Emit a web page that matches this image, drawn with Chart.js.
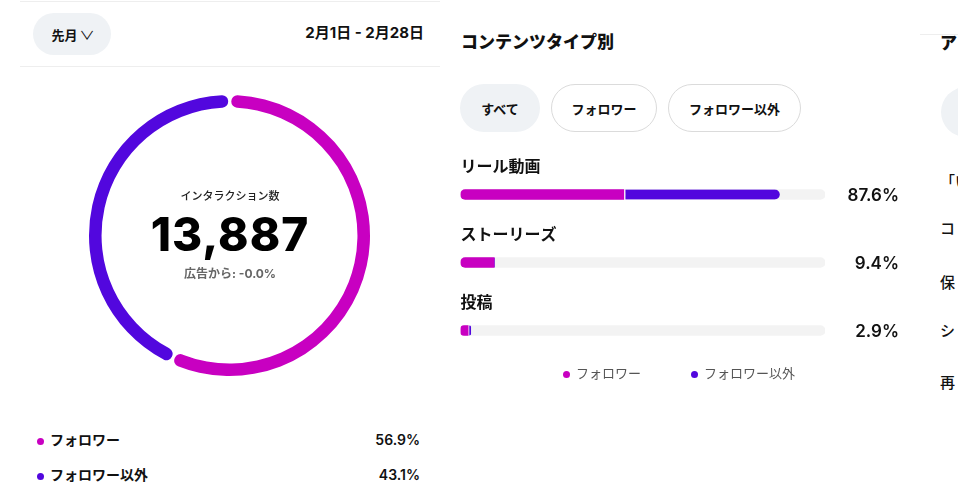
<!DOCTYPE html>
<html lang="ja">
<head>
<meta charset="utf-8">
<script src="https://cdn.jsdelivr.net/npm/chart.js@4.4.1/dist/chart.umd.min.js"></script>
<style>
  html, body { margin: 0; padding: 0; background: #fff; }
  body { width: 958px; height: 501px; position: relative; overflow: hidden;
         font-family: "Inter", "Noto Sans CJK JP", sans-serif; color: #111; }
  .abs { position: absolute; }
  .hline { position: absolute; height: 1px; background: #EEEEEE; }
  .pill { position: absolute; box-sizing: border-box; border-radius: 24px;
          display: flex; align-items: center; justify-content: center;
          font-weight: 700; font-size: 13px; color: #111; }
  .txt { position: absolute; white-space: nowrap; line-height: 1; }
</style>
</head>
<body>
<!-- left panel header -->
<div class="hline" style="left:20px; top:1px; width:420px;"></div>
<div class="pill" style="left:33px; top:13px; width:78px; height:42px; background:#EFF2F5;">先月&nbsp;<span style="font-weight:400; font-size:12px; transform:scaleX(1.3); display:inline-block;">∨</span></div>
<div class="txt" id="dateRange" style="right:534px; top:25px; font-size:15px; font-weight:700;"></div>
<div class="hline" style="left:20px; top:66px; width:420px;"></div>

<!-- doughnut -->
<canvas id="donut" class="abs" style="left:79px; top:85px;" width="301" height="301"></canvas>
<div class="txt" id="centerTitle" style="left:130px; width:200px; text-align:center; top:191px; font-size:11px; font-weight:500; color:#222;"></div>
<div class="txt" id="centerValue" style="left:80px; width:300px; text-align:center; top:211px; font-size:46px; font-weight:800; letter-spacing:1px; color:#000;"></div>
<div class="txt" id="centerSub" style="left:130px; width:200px; text-align:center; top:268px; font-size:12px; font-weight:700; color:#666;"></div>

<div id="donutLegend"></div>

<!-- middle panel -->
<div class="txt" id="midTitle" style="left:461px; top:34px; font-size:17px; font-weight:800;"></div>
<div id="filterPills"></div>
<canvas id="bars" class="abs" style="left:440px; top:140px;" width="480" height="240"></canvas>
<div id="barLegend"></div>

<!-- right cut-off panel -->
<div class="hline" style="left:920px; top:34px; width:38px;"></div>
<div class="txt" style="left:940px; top:35px; font-size:17px; font-weight:800;">ア</div>
<div class="abs" style="left:941px; top:87px; width:60px; height:50px; border-radius:25px; background:#EFF2F5;"></div>
<div id="rightItems"></div>

<script>
// ---------- data ----------
const dateRangeLabel = "2月1日 - 2月28日";
const donutTitle = "インタラクション数";
const totalInteractions = "13,887";
const adsShareLabel = "広告から: -0.0%";
const audienceLabels = ["フォロワー", "フォロワー以外"];
const audienceShares = [56.9, 43.1];

const contentTitle = "コンテンツタイプ別";
const filterLabels = ["すべて", "フォロワー", "フォロワー以外"];
const contentTypes = ["リール動画", "ストーリーズ", "投稿"];
const followerValues = [44.8, 9.2, 2.1];
const nonFollowerValues = [42.8, 0.2, 0.8];
const trackValues = [100, 100, 100];

const rightPanelItems = ["「い", "コ", "保", "シ", "再"];

// ---------- colours ----------
const MAGENTA = "#C800C1";
const PURPLE = "#5207DE";
const TRACK = "#F3F3F3";

// ---------- static texts ----------
document.getElementById("dateRange").textContent = dateRangeLabel;
document.getElementById("centerTitle").textContent = donutTitle;
document.getElementById("centerValue").textContent = totalInteractions;
document.getElementById("centerSub").textContent = adsShareLabel;
document.getElementById("midTitle").textContent = contentTitle;

// donut legend rows
const dl = document.getElementById("donutLegend");
const donutColors = [MAGENTA, PURPLE];
audienceLabels.forEach((lab, i) => {
  const y = 433 + i * 35;
  dl.insertAdjacentHTML("beforeend",
    `<div class="abs" style="left:37px; top:${y + 5}px; width:7px; height:7px; border-radius:50%; background:${donutColors[i]};"></div>
     <div class="txt" style="left:50px; top:${y}px; font-size:14px; font-weight:700; color:#111;">${lab}</div>
     <div class="txt" style="right:538px; top:${y}px; font-size:14px; font-weight:600; color:#111;">${audienceShares[i].toFixed(1)}%</div>`);
});

// filter pills
const pillGeom = [[460, 80, true], [551, 106, false], [668, 133, false]];
const fp = document.getElementById("filterPills");
filterLabels.forEach((lab, i) => {
  const [x, w, active] = pillGeom[i];
  fp.insertAdjacentHTML("beforeend",
    `<div class="pill" style="left:${x}px; top:84px; width:${w}px; height:48px; ${active ? "background:#EFF2F5;" : "border:1px solid #DBDBDB; background:#fff;"}">${lab}</div>`);
});

// bar legend
const bl = document.getElementById("barLegend");
[[563, MAGENTA, audienceLabels[0]], [691, PURPLE, audienceLabels[1]]].forEach(([x, c, lab]) => {
  bl.insertAdjacentHTML("beforeend",
    `<div class="abs" style="left:${x}px; top:371px; width:7px; height:7px; border-radius:50%; background:${c};"></div>
     <div class="txt" style="left:${x + 13}px; top:367px; font-size:13px; font-weight:400; color:#555;">${lab}</div>`);
});

// right panel cut-off items
const ri = document.getElementById("rightItems");
const riY = [174, 221, 275, 323, 375];
rightPanelItems.forEach((t, i) => {
  ri.insertAdjacentHTML("beforeend",
    `<div class="txt" style="left:940px; top:${riY[i]}px; font-size:15px; font-weight:500; color:#111;">${t}</div>`);
});

// ---------- doughnut ----------
new Chart(document.getElementById("donut"), {
  type: "doughnut",
  data: {
    labels: audienceLabels,
    datasets: [{
      data: audienceShares,
      backgroundColor: donutColors,
      borderWidth: 0,
      borderRadius: 6,
      spacing: 2
    }]
  },
  options: {
    responsive: false,
    animation: false,
    cutout: "91%",
    layout: { padding: 10 },
    plugins: { legend: { display: false }, tooltip: { enabled: false } }
  }
});

// ---------- horizontal stacked bars ----------
const barLabelsPlugin = {
  id: "barLabels",
  afterDatasetsDraw(chart) {
    const { ctx, chartArea } = chart;
    const yScale = chart.scales.y;
    ctx.save();
    contentTypes.forEach((name, i) => {
      const y = yScale.getPixelForValue(i);
      ctx.fillStyle = "#111";
      ctx.textBaseline = "middle";
      ctx.font = '600 16px "Inter", "Noto Sans CJK JP", sans-serif';
      ctx.textAlign = "left";
      ctx.fillText(name, chartArea.left, y - 27);
      const total = followerValues[i] + nonFollowerValues[i];
      ctx.font = '600 17px "Inter", "Noto Sans CJK JP", sans-serif';
      ctx.textAlign = "right";
      ctx.fillText(total.toFixed(1) + "%", chartArea.right + 74, y + 1);
    });
    ctx.restore();
  }
};

const common = { barThickness: 10, borderSkipped: false, grouped: false };
new Chart(document.getElementById("bars"), {
  type: "bar",
  data: {
    labels: contentTypes,
    datasets: [
      Object.assign({
        label: audienceLabels[0],
        data: followerValues,
        backgroundColor: MAGENTA,
        stack: "fg",
        order: 1,
        borderWidth: 0,
        borderRadius: { topLeft: 5, bottomLeft: 5, topRight: 0, bottomRight: 0 }
      }, common),
      Object.assign({
        label: audienceLabels[1],
        data: nonFollowerValues,
        backgroundColor: PURPLE,
        stack: "fg",
        order: 1,
        borderColor: "#FFFFFF",
        borderWidth: { left: 2, top: 0, right: 0, bottom: 0 },
        borderRadius: { topLeft: 0, bottomLeft: 0, topRight: 5, bottomRight: 5 }
      }, common),
      Object.assign({
        label: "track",
        data: trackValues,
        backgroundColor: TRACK,
        stack: "bg",
        order: 2,
        borderWidth: 0,
        borderRadius: 5
      }, common)
    ]
  },
  options: {
    indexAxis: "y",
    responsive: false,
    animation: false,
    layout: { padding: { left: 20.5, right: 95, top: 20.5, bottom: 15.5 } },
    scales: {
      x: { stacked: true, min: 0, max: 100, display: false },
      y: { stacked: true, display: false }
    },
    plugins: { legend: { display: false }, tooltip: { enabled: false } }
  },
  plugins: [barLabelsPlugin]
});
</script>
</body>
</html>
